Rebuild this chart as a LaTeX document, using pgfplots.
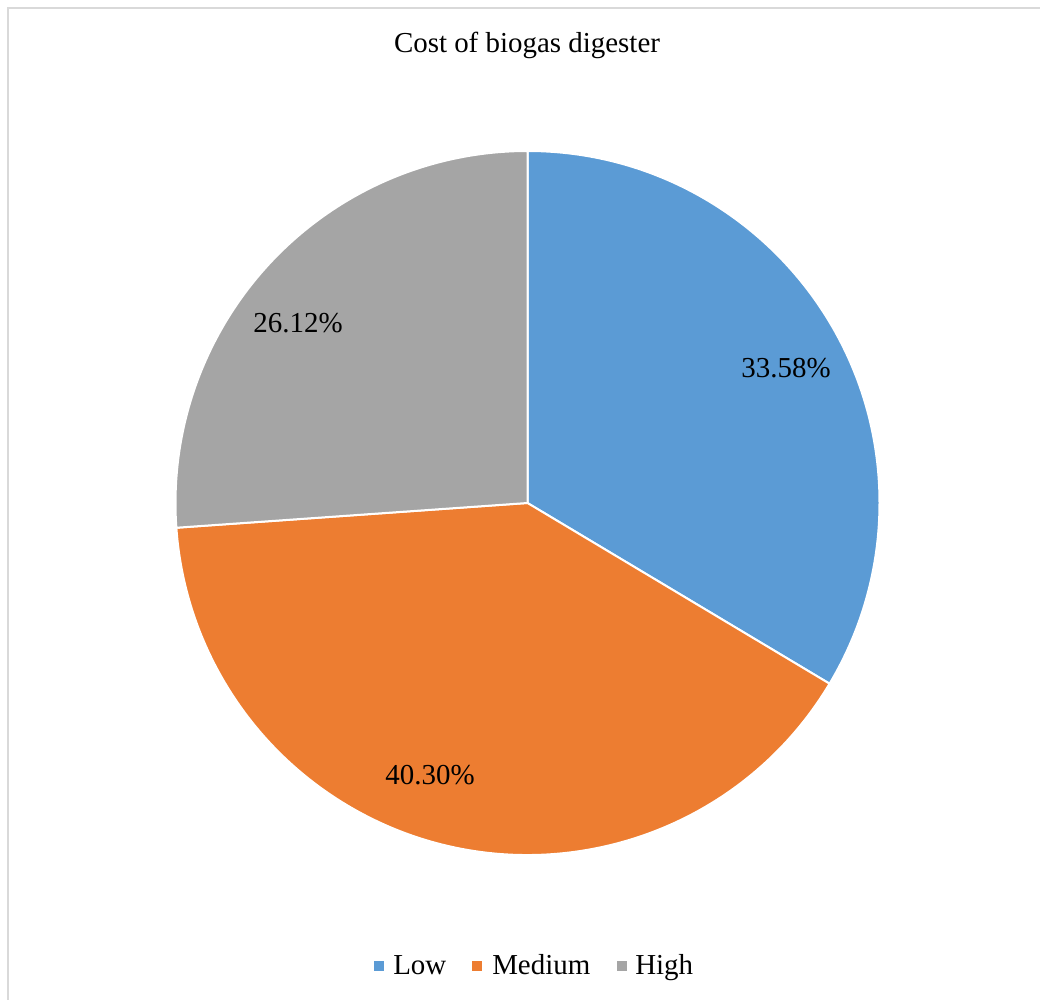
\documentclass[border=0pt]{standalone}
\usepackage{pgfplots}
\pgfplotsset{compat=1.18}
\usepackage{fontspec}
\setmainfont{Liberation Serif}
\definecolor{lowc}{HTML}{5B9BD5}
\definecolor{medc}{HTML}{ED7D31}
\definecolor{highc}{HTML}{A5A5A5}
\definecolor{framec}{HTML}{D9D9D9}

\begin{document}
\fontsize{21.7}{26}\selectfont
\begin{tikzpicture}
% shares (percent) of each cost class
\def\vLow{33.58}\def\vMed{40.30}\def\vHigh{26.12}
% slice boundaries, clockwise from twelve o'clock
\pgfmathsetmacro\aA{90}
\pgfmathsetmacro\aB{90-3.6*\vLow}
\pgfmathsetmacro\aC{\aB-3.6*\vMed}
\pgfmathsetmacro\aD{\aC-3.6*\vHigh}
\def\R{264pt}
\begin{axis}[hide axis, scale only axis, x=0.75pt, y=0.75pt,
  xmin=0, xmax=1040, ymin=0, ymax=1000, clip=false]
  % outer frame
  \draw[framec, line width=1.5pt] (axis cs:8,0) -- (axis cs:8,992) -- (axis cs:1040,992);
  % title
  \node at (axis cs:527,955) {Cost of biogas digester};
  % pie slices
  \filldraw[fill=lowc, draw=white, line width=1.5pt] (axis cs:527.5,497) -- ++(\aA:\R)
     arc[start angle=\aA, end angle=\aB, radius=\R] -- cycle;
  \filldraw[fill=medc, draw=white, line width=1.5pt] (axis cs:527.5,497) -- ++(\aB:\R)
     arc[start angle=\aB, end angle=\aC, radius=\R] -- cycle;
  \filldraw[fill=highc, draw=white, line width=1.5pt] (axis cs:527.5,497) -- ++(\aC:\R)
     arc[start angle=\aC, end angle=\aD, radius=\R] -- cycle;
  % data labels
  \node at (axis cs:786,632) {\vLow\%};
  \node at (axis cs:430,225) {\vMed\%};
  \node at (axis cs:298,677) {\vHigh\%};
  % legend
  \fill[lowc]  (axis cs:374,29) rectangle (axis cs:384,39);
  \node[anchor=base west, inner sep=0pt] at (axis cs:393,25) {Low};
  \fill[medc]  (axis cs:472,29) rectangle (axis cs:482,39);
  \node[anchor=base west, inner sep=0pt] at (axis cs:492,25) {Medium};
  \fill[highc] (axis cs:617,29) rectangle (axis cs:627,39);
  \node[anchor=base west, inner sep=0pt] at (axis cs:635,25) {High};
\end{axis}
\pgfresetboundingbox
\useasboundingbox (current axis.south west) rectangle (current axis.north east);
\end{tikzpicture}
\end{document}
